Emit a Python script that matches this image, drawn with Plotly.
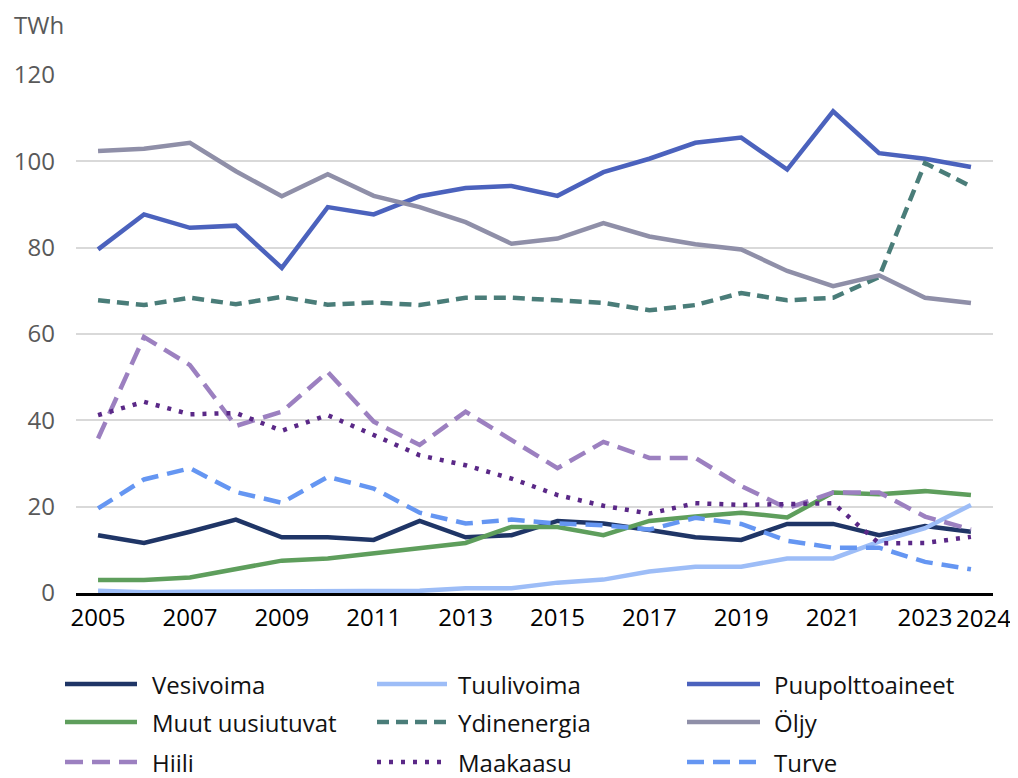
import plotly.graph_objects as go

years = list(range(2005, 2025))

vesivoima = [13.4, 11.6, 14.2, 17.0, 12.9, 12.9, 12.3, 16.7, 12.9, 13.4, 16.7, 16.1, 14.6, 12.9, 12.3, 16.0, 16.0, 13.4, 15.5, 14.2]
tuulivoima = [0.5, 0.2, 0.3, 0.3, 0.3, 0.3, 0.3, 0.5, 1.1, 1.1, 2.4, 3.1, 5.0, 6.1, 6.1, 8.0, 8.0, 11.9, 15.0, 20.4]
puupolttoaineet = [79.6, 87.7, 84.6, 85.1, 75.3, 89.4, 87.7, 91.9, 93.8, 94.3, 92.0, 97.5, 100.6, 104.3, 105.5, 98.1, 111.6, 101.9, 100.6, 98.7]
muut_uusiutuvat = [3.0, 3.0, 3.6, 5.5, 7.5, 8.0, 9.2, 10.3, 11.6, 15.3, 15.3, 13.4, 16.7, 17.7, 18.6, 17.5, 23.3, 22.9, 23.6, 22.7]
ydinenergia = [67.8, 66.7, 68.4, 66.9, 68.6, 66.8, 67.3, 66.7, 68.4, 68.4, 67.8, 67.2, 65.5, 66.7, 69.5, 67.8, 68.4, 73.2, 99.6, 94.2]
oljy = [102.4, 102.9, 104.3, 97.7, 91.9, 97.0, 92.0, 89.4, 85.9, 80.9, 82.1, 85.7, 82.6, 80.8, 79.6, 74.6, 71.1, 73.6, 68.4, 67.2]
hiili = [35.8, 59.3, 52.8, 38.7, 42.0, 51.2, 39.7, 34.3, 42.0, 35.3, 28.9, 35.0, 31.3, 31.3, 24.8, 19.6, 23.3, 23.3, 17.7, 14.7]
maakaasu = [41.2, 44.3, 41.4, 41.7, 37.6, 41.2, 36.6, 31.9, 29.6, 26.5, 22.7, 20.2, 18.4, 20.8, 20.4, 20.6, 20.8, 11.5, 11.6, 13.0]
turve = [19.6, 26.3, 28.9, 23.4, 20.9, 26.9, 24.2, 18.6, 16.1, 17.0, 16.1, 15.7, 14.7, 17.4, 16.0, 12.1, 10.5, 10.5, 7.2, 5.5]

series_names = ["Vesivoima", "Tuulivoima", "Puupolttoaineet", "Muut uusiutuvat", "Ydinenergia",
                "Öljy", "Hiili", "Maakaasu", "Turve"]
series_values = [vesivoima, tuulivoima, puupolttoaineet, muut_uusiutuvat, ydinenergia,
                 oljy, hiili, maakaasu, turve]

x_tickvals = [2005, 2007, 2009, 2011, 2013, 2015, 2017, 2019, 2021, 2023, 2024]
x_ticktext = ["2005", "2007", "2009", "2011", "2013", "2015", "2017", "2019", "2021", "2023", "2024"]
y_tickvals = [0, 20, 40, 60, 80, 100, 120]

styles = {
    "Vesivoima": dict(color="#1f3566", dash="solid", width=4.5),
    "Tuulivoima": dict(color="#9dbdf7", dash="solid", width=4.5),
    "Puupolttoaineet": dict(color="#4b62bd", dash="solid", width=4.5),
    "Muut uusiutuvat": dict(color="#5e9e5c", dash="solid", width=4.5),
    "Ydinenergia": dict(color="#4a7d79", dash="12px,7px", width=4.5),
    "Öljy": dict(color="#8f8fa8", dash="solid", width=4.5),
    "Hiili": dict(color="#9c80c0", dash="18px,9px", width=4.5),
    "Maakaasu": dict(color="#5a2887", dash="4px,8px", width=4.5),
    "Turve": dict(color="#6596f2", dash="17px,9px", width=4.5),
}

FONT = "Open Sans"
FS = 24
OFF = 8  # default page body margin
W, H = 1018 - OFF, 778 - OFF
# plot area in page pixels: left 76, right 993, top 75, bottom 593
L = 76 - OFF
R = 1018 - 993
T = 75 - OFF
B = 778 - 593
PW, PH = W - L - R, H - T - B

fig = go.Figure()
for name, vals in zip(series_names, series_values):
    s = styles[name]
    fig.add_trace(go.Scatter(x=years, y=vals, mode="lines", name=name,
                             line=dict(color=s["color"], dash=s["dash"], width=s["width"]),
                             showlegend=False, hoverinfo="x+y+name"))

def px_to_paper(px, py):
    # page pixels -> paper coordinates
    fx, fy = px - OFF, py - OFF
    return (fx - L) / PW, (H - B - fy) / PH

# manual legend, 3 columns x 3 rows
col_x = [(65, 137, 150), (377, 447, 456), (687, 760, 772)]
row_y = [684, 722, 762]
shapes = []
annotations = []
for i, name in enumerate(series_names):
    r, c = divmod(i, 3)
    x0, x1, xt = col_x[c]
    yy = row_y[r]
    s = styles[name]
    px0, py0 = px_to_paper(x0, yy)
    px1, _ = px_to_paper(x1, yy)
    shapes.append(dict(type="line", xref="paper", yref="paper", x0=px0, x1=px1, y0=py0, y1=py0,
                       line=dict(color=s["color"], width=s["width"], dash=s["dash"])))
    pxt, pyt = px_to_paper(xt, yy)
    annotations.append(dict(xref="paper", yref="paper", x=pxt, y=pyt, xanchor="left", yanchor="middle",
                            text=name, showarrow=False, font=dict(family=FONT, size=FS, color="#111111")))

tx, ty = px_to_paper(12, 25)
annotations.append(dict(xref="paper", yref="paper", x=tx, y=ty, xanchor="left", yanchor="middle",
                        text="TWh", showarrow=False, font=dict(family=FONT, size=FS, color="#595959")))

# last x label (2024) nudged right so it sits beside 2023, as in the original
annotations.append(dict(xref="x", yref="paper", x=x_tickvals[-1], y=0, xanchor="center", yanchor="top",
                        xshift=13, yshift=-6, text=x_ticktext[-1], showarrow=False,
                        font=dict(family=FONT, size=FS, color="#000000")))

fig.update_layout(
    width=W, height=H,
    margin=dict(l=L, r=R, t=T, b=B, autoexpand=False),
    plot_bgcolor="white", paper_bgcolor="white",
    font=dict(family=FONT, size=FS, color="#111111"),
    shapes=shapes, annotations=annotations,
    xaxis=dict(range=[2004.52, 2024.48], tickvals=x_tickvals[:-1], ticktext=x_ticktext[:-1],
               showgrid=False, zeroline=False, showline=True, linecolor="#000000", linewidth=3,
               layer="below traces", ticks="", ticklabelstandoff=1, tickangle=0, automargin=False,
               tickfont=dict(family=FONT, size=FS, color="#000000"), fixedrange=True),
    yaxis=dict(range=[0, 120], tickvals=y_tickvals, showgrid=True, gridcolor="#d9d9d9", gridwidth=2,
               zeroline=False, showline=False, ticks="", ticklabelstandoff=20, automargin=False,
               tickfont=dict(family=FONT, size=FS, color="#595959"), fixedrange=True),
)

fig.write_html("out.html")
